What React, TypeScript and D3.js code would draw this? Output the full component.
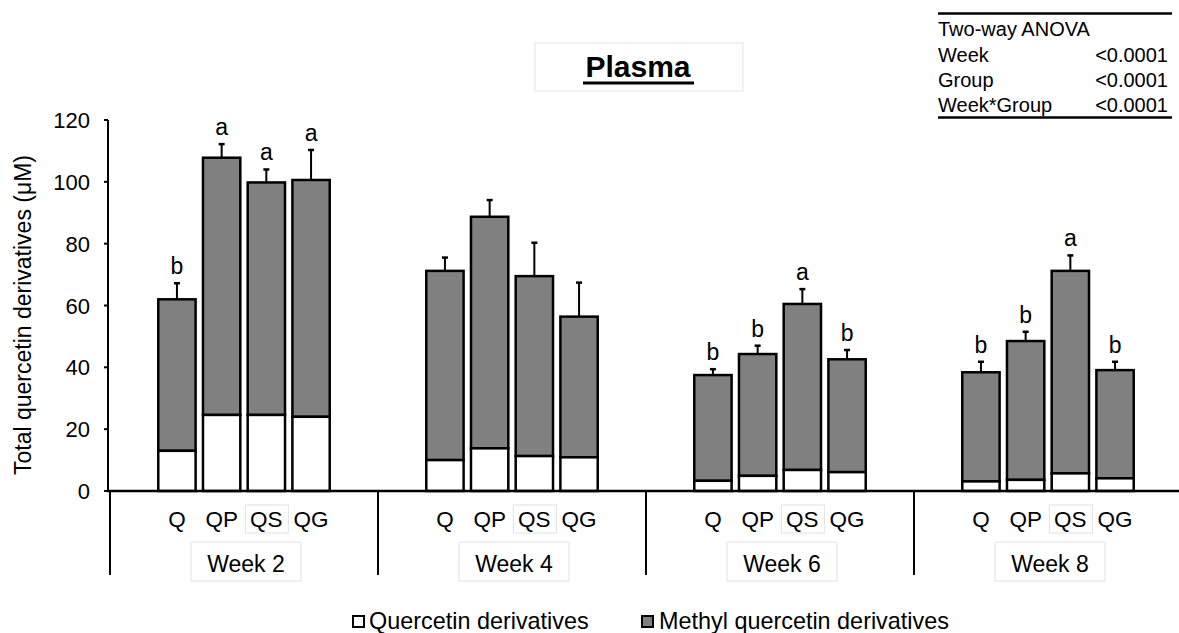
import React from "react";
import * as d3 from "d3";

const weeks = ["Week 2", "Week 4", "Week 6", "Week 8"];
const groups = ["Q", "QP", "QS", "QG"];
// Quercetin derivatives (white, bottom segment)
const quercetin = [
  [13.0, 24.6, 24.6, 24.0],
  [10.0, 13.8, 11.3, 10.9],
  [3.3, 4.9, 6.8, 6.1],
  [3.1, 3.6, 5.7, 4.1],
];
// Totals (quercetin + methyl quercetin)
const totals = [
  [62.0, 107.8, 99.8, 100.6],
  [71.2, 88.7, 69.5, 56.4],
  [37.5, 44.3, 60.5, 42.6],
  [38.4, 48.5, 71.2, 39.1],
];
const errors = [
  [5.2, 4.4, 4.2, 9.7],
  [4.3, 5.4, 10.8, 11.0],
  [1.9, 2.7, 4.8, 3.0],
  [3.4, 3.0, 5.0, 2.7],
];
const letters = [
  ["b", "a", "a", "a"],
  ["", "", "", ""],
  ["b", "b", "a", "b"],
  ["b", "b", "a", "b"],
];
const yTicks = [0, 20, 40, 60, 80, 100, 120];
const anovaRows = [
  ["Week", "<0.0001"],
  ["Group", "<0.0001"],
  ["Week*Group", "<0.0001"],
];
const legendItems = ["Quercetin derivatives", "Methyl quercetin derivatives"];

const W = 1179;
const H = 633;
const FONT = "Liberation Sans, Arial, Helvetica, sans-serif";

export default function App() {
  const y = d3.scaleLinear().domain([0, 120]).range([491, 120]);
  const xWeek = d3.scaleBand().domain(weeks).range([110, 1182]).padding(0);
  const xGroup = d3
    .scaleBand()
    .domain(groups)
    .range([0, xWeek.bandwidth()])
    .paddingInner(0.165)
    .paddingOuter(1.08);
  const bw = xGroup.bandwidth();

  return (
    <svg
      width={W}
      height={H}
      style={{ position: "absolute", left: 0, top: 0, background: "#fff" }}
      fontFamily={FONT}
    >
      <rect x={0} y={0} width={W} height={H} fill="#fff" />
      {/* Title */}
      <rect x={535} y={43} width={208} height={48} fill="none" stroke="#e4e4e4" strokeWidth={1} />
      <text x={638} y={77} textAnchor="middle" fontSize={30} fontWeight="bold" fill="#000">
        Plasma
      </text>
      <line x1={583} x2={694} y1={83} y2={83} stroke="#000" strokeWidth={3} />

      {/* ANOVA table */}
      <line x1={938} x2={1172} y1={13.5} y2={13.5} stroke="#000" strokeWidth={2.5} />
      <text x={938} y={36} fontSize={20} fill="#000">Two-way ANOVA</text>
      {anovaRows.map((r, i) => (
        <g key={r[0]}>
          <text x={938} y={62 + i * 25} fontSize={20} fill="#000">{r[0]}</text>
          <text x={1168} y={62 + i * 25} fontSize={20} fill="#000" textAnchor="end">{r[1]}</text>
        </g>
      ))}
      <line x1={938} x2={1172} y1={117.5} y2={117.5} stroke="#000" strokeWidth={2.5} />

      {/* Y axis */}
      <line x1={108} x2={108} y1={y(120)} y2={y(0)} stroke="#000" strokeWidth={2} />
      {yTicks.map((t) => (
        <g key={t}>
          <line x1={104} x2={108} y1={y(t)} y2={y(t)} stroke="#000" strokeWidth={2} />
          <text x={90} y={y(t) + 8} fontSize={22} textAnchor="end" fill="#000">
            {t}
          </text>
        </g>
      ))}
      <text
        transform={`translate(31, 315) rotate(-90)`}
        fontSize={23}
        textAnchor="middle"
        fill="#000"
      >
        Total quercetin derivatives (μM)
      </text>

      {/* Bars */}
      {weeks.map((w, wi) => (
        <g key={w} transform={`translate(${xWeek(w)},0)`}>
          {groups.map((g, gi) => {
            const x0 = xGroup(g)!;
            const q = quercetin[wi][gi];
            const tot = totals[wi][gi];
            const err = errors[wi][gi];
            const cx = x0 + bw / 2;
            const errTop = y(tot + err);
            return (
              <g key={g}>
                <line x1={cx} x2={cx} y1={y(tot)} y2={errTop} stroke="#000" strokeWidth={2} />
                <line x1={cx - 3} x2={cx + 3} y1={errTop} y2={errTop} stroke="#000" strokeWidth={2.5} />
                <rect x={x0} y={y(tot)} width={bw} height={y(q) - y(tot)} fill="#808080" stroke="#000" strokeWidth={2.5} />
                <rect x={x0} y={y(q)} width={bw} height={y(0) - y(q)} fill="#fff" stroke="#000" strokeWidth={2.5} />
                {letters[wi][gi] && (
                  <text x={cx} y={errTop - 9} fontSize={23} textAnchor="middle" fill="#000">
                    {letters[wi][gi]}
                  </text>
                )}
                {g === "QS" && (
                  <rect x={cx - 21} y={505} width={43} height={28} fill="none" stroke="#e2e2e2" strokeWidth={1} />
                )}
                <text x={cx} y={527} fontSize={22.5} textAnchor="middle" fill="#000">
                  {g}
                </text>
              </g>
            );
          })}
          <rect
            x={xWeek.bandwidth() / 2 - 53}
            y={542}
            width={110}
            height={39}
            fill="none"
            stroke="#e2e2e2"
            strokeWidth={1}
          />
          <text x={xWeek.bandwidth() / 2 + 2} y={572} fontSize={23} textAnchor="middle" fill="#000">
            {w}
          </text>
          <line x1={0} x2={0} y1={y(0)} y2={575} stroke="#000" strokeWidth={2} />
        </g>
      ))}
      {/* X baseline */}
      <line x1={107} x2={W} y1={y(0)} y2={y(0)} stroke="#000" strokeWidth={2.5} />

      {/* Legend */}
      <rect x={353} y={616} width={11} height={11} fill="#fff" stroke="#000" strokeWidth={2} />
      <text x={369} y={628.5} fontSize={23.4} fill="#000">{legendItems[0]}</text>
      <rect x={642} y={616} width={11} height={11} fill="#808080" stroke="#000" strokeWidth={2} />
      <text x={659} y={628.5} fontSize={23.4} fill="#000">{legendItems[1]}</text>
    </svg>
  );
}
